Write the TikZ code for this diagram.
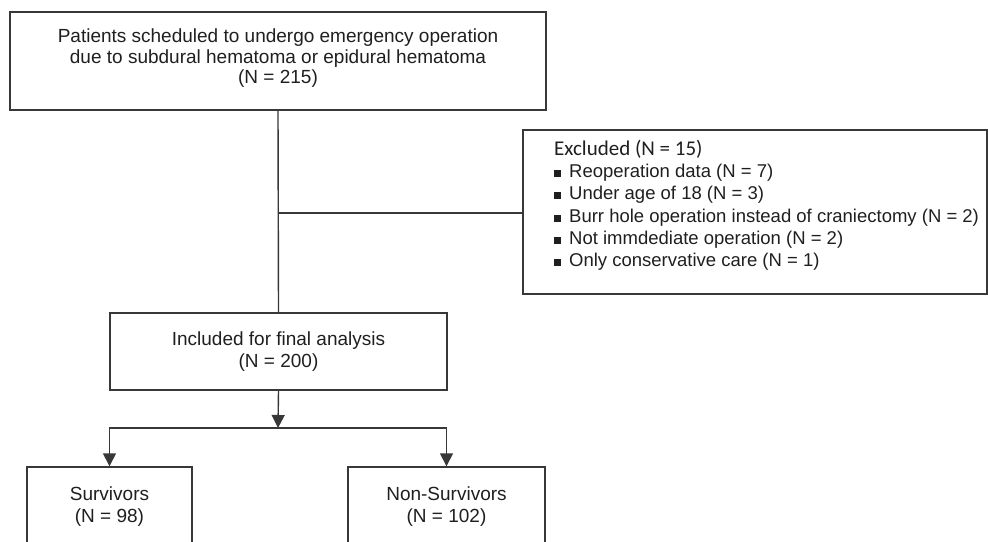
\documentclass[tikz,border=0pt]{standalone}
\usepackage{fontspec}
\setmainfont{Liberation Sans}
\newfontfamily\calibrifont{Carlito}
\usetikzlibrary{arrows.meta,positioning}

\definecolor{linegray}{gray}{0.22}
\definecolor{textgray}{gray}{0.12}
\newcommand{\sqbullet}{\rule[0.5pt]{7pt}{7pt}\hspace{8pt}}

\begin{document}
\begin{tikzpicture}[x=1pt,y=-1pt,
    box/.style={draw=linegray,line width=1.4pt,inner sep=0pt},
    txt/.style={text=textgray,align=center,inner sep=0pt,font=\fontsize{19}{22}\selectfont},
    link/.style={draw=linegray,line width=1.4pt},
    >={Triangle[length=13pt,width=13pt]}]
    \useasboundingbox (0,0) rectangle (988,541);
    \clip (0,0) rectangle (988,541);

    % boxes
    \node[box,minimum width=536pt,minimum height=98pt] (screen) at (278,61) {};
    \node[box,minimum width=464pt,minimum height=164pt] (excl) at (755,212) {};
    \node[box,minimum width=337pt,minimum height=77pt] (incl) at (278.5,351.5) {};
    \node[box,minimum width=165pt,minimum height=110pt] (surv) at (109.5,522) {};
    \node[box,minimum width=197pt,minimum height=110pt] (nonsurv) at (446.5,522) {};

    % labels
    \node[txt,font=\fontsize{19}{20.5}\selectfont] (screentxt) at (278,58.5) {Patients scheduled to undergo emergency operation\\due to subdural hematoma or epidural hematoma\\(N = 215)};
    \node[txt] (incltxt) at (278.5,352) {Included for final analysis\\(N = 200)};
    \node[txt] (survtxt) at (109.5,507) {Survivors\\(N = 98)};
    \node[txt] (nonsurvtxt) at (446.5,507) {Non-Survivors\\(N = 102)};
    \node[txt,anchor=north west,align=left,font=\fontsize{18.5}{22.2}\selectfont] (excltxt) at (554,140)
        {{\calibrifont\fontsize{21}{22.2}\selectfont Excluded (N = 15)}\\
         \sqbullet Reoperation data (N = 7)\\
         \sqbullet Under age of 18 (N = 3)\\
         \sqbullet Burr hole operation instead of craniectomy (N = 2)\\
         \sqbullet Not immdediate operation (N = 2)\\
         \sqbullet Only conservative care (N = 1)};

    % connectors
    \coordinate (branch) at (278,213);
    \coordinate (split) at (278,428);
    \draw[link] (screen.south) -- (incl.north);
    \draw[link] (branch) -- (branch -| excl.west);
    \draw[link,->] (incl.south) -- (split);
    \foreach \to in {surv,nonsurv}
    \draw[link,->] (split) -| (\to.north);

\end{tikzpicture}
\end{document}
